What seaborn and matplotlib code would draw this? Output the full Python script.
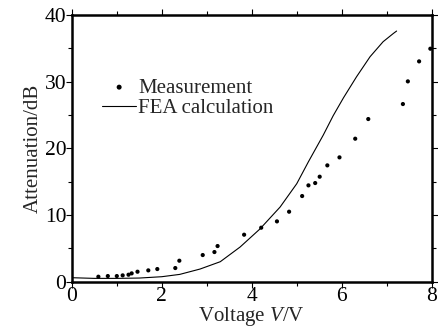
import matplotlib
matplotlib.use("Agg")
import matplotlib.pyplot as plt
import seaborn as sns
import pandas as pd
from matplotlib.ticker import MultipleLocator

sns.set_style("ticks")
plt.rcParams['font.family'] = ['Liberation Serif', 'DejaVu Serif']
plt.rcParams['mathtext.fontset'] = 'custom'
plt.rcParams['mathtext.it'] = 'Liberation Serif:italic'
plt.rcParams['mathtext.rm'] = 'Liberation Serif'

# Measurement data
meas_v = [0.59, 0.80, 1.00, 1.13, 1.26, 1.33, 1.46, 1.70, 1.90, 2.30, 2.39, 2.91,
          3.17, 3.24, 3.83, 4.21, 4.56, 4.83, 5.12, 5.26, 5.41, 5.51, 5.68, 5.95,
          6.30, 6.59, 7.36, 7.47, 7.72, 7.97]
meas_db = [0.75, 0.85, 0.85, 0.95, 1.05, 1.25, 1.5, 1.7, 1.9, 2.05, 3.15, 4.0,
           4.45, 5.35, 7.05, 8.1, 9.05, 10.5, 12.85, 14.45, 14.8, 15.75, 17.45, 18.65,
           21.45, 24.4, 26.65, 30.05, 33.05, 34.95]

# FEA calculation curve
fea_v = [0.0, 0.5, 1.0, 1.5, 2.0, 2.4, 2.85, 3.3, 3.74, 4.18, 4.63, 5.0, 5.26,
         5.59, 5.81, 6.04, 6.33, 6.63, 6.92, 7.15, 7.22]
fea_db = [0.6, 0.5, 0.5, 0.55, 0.75, 1.1, 1.9, 3.0, 5.2, 7.9, 11.2, 14.7, 18.0,
          22.0, 24.9, 27.6, 30.75, 33.75, 36.0, 37.25, 37.6]

meas = pd.DataFrame({"V": meas_v, "dB": meas_db})
fea = pd.DataFrame({"V": fea_v, "dB": fea_db})

fig = plt.figure(figsize=(4.38, 3.27), dpi=100)
ax = fig.add_axes([0.164, 0.1385, 0.8216, 0.8155])

sns.scatterplot(data=meas, x="V", y="dB", ax=ax, color="black", s=9,
                edgecolor="none", label="Measurement", zorder=3)
sns.lineplot(data=fea, x="V", y="dB", ax=ax, color="black", linewidth=0.8,
             label="FEA calculation", sort=False)

ax.set_xlim(0, 8)
ax.set_ylim(0, 40)
ax.xaxis.set_major_locator(MultipleLocator(2))
ax.xaxis.set_minor_locator(MultipleLocator(1))
ax.yaxis.set_major_locator(MultipleLocator(10))
ax.yaxis.set_minor_locator(MultipleLocator(5))
ax.tick_params(which="both", direction="out", top=True, right=True,
               labeltop=False, labelright=False, colors="black", width=0.8)
ax.tick_params(which="major", length=4, labelsize=15.5, pad=0)
ax.tick_params(which="minor", length=3)
for s in ax.spines.values():
    s.set_visible(True)
    s.set_linewidth(1.8)
    s.set_color("black")

ax.set_xlabel("Voltage $V$/V", fontsize=15, labelpad=-1)
ax.set_ylabel("Attenuation/dB", fontsize=15, labelpad=1)

leg = ax.legend(loc="upper left", bbox_to_anchor=(0.062, 0.795), frameon=False,
                fontsize=15, handlelength=1.6, handletextpad=0.1,
                labelspacing=0.05, borderaxespad=0, markerscale=1.2)

fig.savefig("out.png", dpi=100)
